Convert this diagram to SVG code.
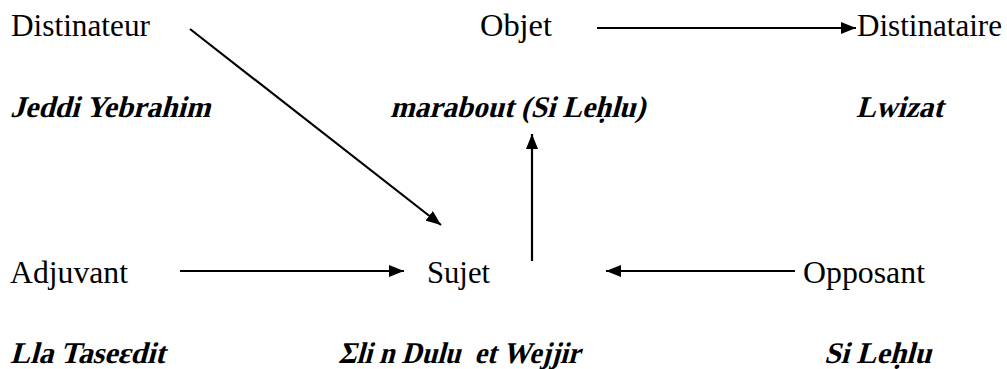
<svg xmlns="http://www.w3.org/2000/svg" width="1007" height="369" viewBox="0 0 1007 369">
  <style>
    .lbl { font-family: "Liberation Serif", "Times New Roman", serif; font-size: 30.5px; fill: #000; }
    /* names drawn in a slanted, heavy serif */
    .who { font-family: "Liberation Serif", "Times New Roman", serif; font-size: 30px; font-weight: bold; fill: #000; }
    .edge { stroke: #000; stroke-width: 2.2; fill: none; marker-end: url(#head); }
  </style>
  <defs>
    <marker id="head" viewBox="0 0 15 12" refX="15" refY="6" markerWidth="15" markerHeight="12" markerUnits="userSpaceOnUse" orient="auto">
      <path d="M0,0 L15,6 L0,12 Z" fill="#000"/>
    </marker>
  </defs>
  <rect width="1007" height="369" fill="#fff"/>

  <g id="destinateur">
    <text class="lbl" x="11" y="36" textLength="139" lengthAdjust="spacingAndGlyphs">Distinateur</text>
    <text class="who" transform="translate(10 117) skewX(-15)" textLength="200" lengthAdjust="spacingAndGlyphs">Jeddi Yebrahim</text>
  </g>
  <g id="objet">
    <text class="lbl" x="480" y="36" textLength="72" lengthAdjust="spacingAndGlyphs">Objet</text>
    <text class="who" transform="translate(390 117) skewX(-15)" textLength="255" lengthAdjust="spacingAndGlyphs">marabout (Si Leḥlu)</text>
  </g>
  <g id="destinataire">
    <text class="lbl" x="857" y="36" textLength="145" lengthAdjust="spacingAndGlyphs">Distinataire</text>
    <text class="who" transform="translate(856 117) skewX(-15)" textLength="87" lengthAdjust="spacingAndGlyphs">Lwizat</text>
  </g>
  <g id="adjuvant">
    <text class="lbl" x="10" y="283" textLength="118" lengthAdjust="spacingAndGlyphs">Adjuvant</text>
    <text class="who" transform="translate(10 363) skewX(-15)" textLength="155" lengthAdjust="spacingAndGlyphs">Lla Taseɛdit</text>
  </g>
  <g id="sujet">
    <text class="lbl" x="427" y="283" textLength="63" lengthAdjust="spacingAndGlyphs">Sujet</text>
    <text class="who" transform="translate(338 363) skewX(-15)" textLength="242" lengthAdjust="spacingAndGlyphs" xml:space="preserve">Σli n Dulu  et Wejjir</text>
  </g>
  <g id="opposant">
    <text class="lbl" x="803" y="283" textLength="122" lengthAdjust="spacingAndGlyphs">Opposant</text>
    <text class="who" transform="translate(824 363) skewX(-15)" textLength="107" lengthAdjust="spacingAndGlyphs">Si Leḥlu</text>
  </g>

  <g id="connectors">
    <line class="edge" x1="597" y1="28" x2="856" y2="28"/>
    <line class="edge" x1="190" y1="29" x2="441" y2="225"/>
    <line class="edge" x1="532" y1="261" x2="532" y2="134"/>
    <line class="edge" x1="180" y1="271" x2="404" y2="271"/>
    <line class="edge" x1="795" y1="271" x2="606" y2="271"/>
  </g>
</svg>
